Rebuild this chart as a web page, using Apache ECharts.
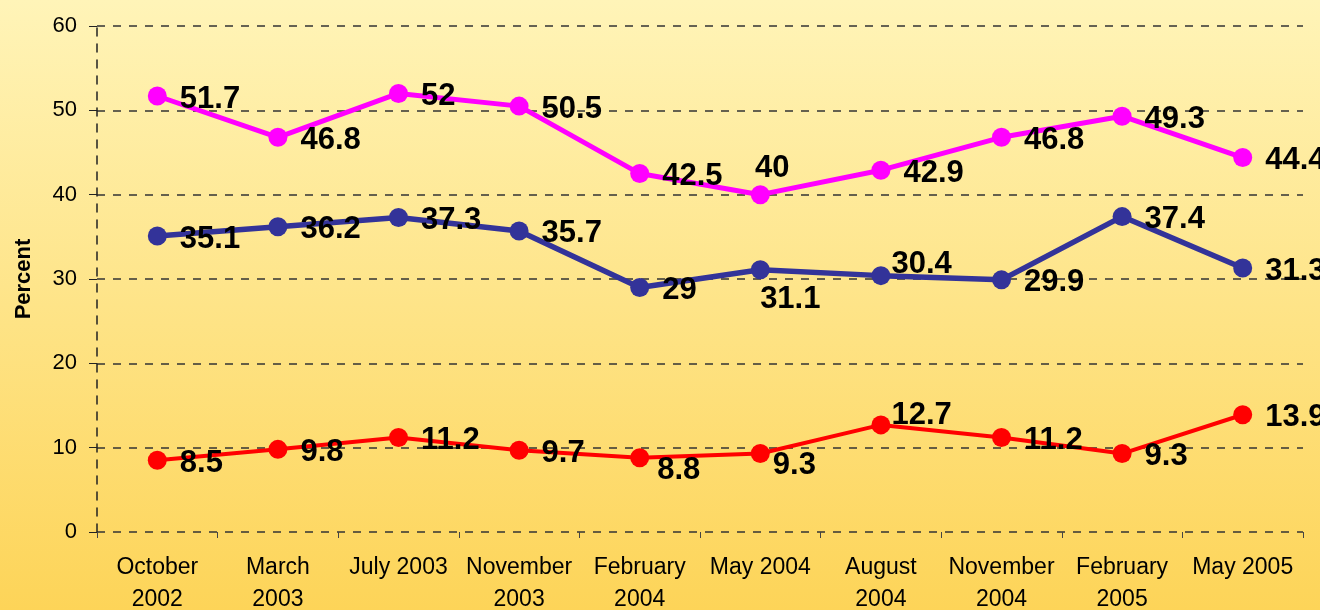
<!DOCTYPE html>
<html>
<head>
<meta charset="utf-8">
<script src="https://cdn.jsdelivr.net/npm/echarts@6/dist/echarts.min.js"></script>
<style>
html, body { margin: 0; padding: 0; }
#chart { width: 1320px; height: 610px; }
</style>
</head>
<body>
<div id="chart"></div>
<script>
var categories = ['October\n2002', 'March\n2003', 'July 2003', 'November\n2003', 'February\n2004',
  'May 2004', 'August\n2004', 'November\n2004', 'February\n2005', 'May 2005']
var magentaValues = [51.7, 46.8, 52, 50.5, 42.5, 40, 42.9, 46.8, 49.3, 44.4]
var blueValues = [35.1, 36.2, 37.3, 35.7, 29, 31.1, 30.4, 29.9, 37.4, 31.3]
var redValues = [8.5, 9.8, 11.2, 9.7, 8.8, 9.3, 12.7, 11.2, 9.3, 13.9]
var yTicks = [0, 10, 20, 30, 40, 50, 60]

// label nudges for single points, kept apart from the values
var magentaNudge = { 5: { position: 'top', offset: [12, 12] } }
var blueNudge = { 5: { position: 'bottom', offset: [30, -8] }, 6: { offset: [-12, -11] } }
var redNudge = { 4: { offset: [-5, 13] }, 5: { offset: [-10, 12] }, 6: { offset: [-12, -9] } }

var chart = echarts.init(document.getElementById('chart'))

function buildData(values, nudge) {
  return values.map(function (v, i) {
    var item = { value: v }
    if (nudge[i]) {
      item.label = nudge[i]
    }
    return item
  })
}

function makeSeries(name, values, color, width, nudge) {
  return {
    name: name,
    type: 'line',
    data: buildData(values, nudge),
    symbol: 'circle',
    symbolSize: 19,
    itemStyle: { color: color },
    lineStyle: { color: color, width: width },
    label: {
      show: true,
      position: 'right',
      distance: 13,
      offset: [0, 3],
      color: '#000',
      fontFamily: 'Liberation Sans, Arial, sans-serif',
      fontWeight: 'bold',
      fontSize: 31
    },
    animation: false
  }
}

chart.setOption({
  backgroundColor: {
    type: 'linear', x: 0, y: 0, x2: 0, y2: 1,
    colorStops: [
      { offset: 0, color: '#fff4b8' },
      { offset: 1, color: '#fdd458' }
    ]
  },
  textStyle: { fontFamily: 'Liberation Sans, Arial, sans-serif' },
  grid: {
    left: 97,
    right: 17,
    top: 26,
    bottom: 78,
    containLabel: false,
    outerBoundsMode: 'none'
  },
  xAxis: {
    type: 'category',
    data: categories,
    boundaryGap: true,
    axisLine: { show: false },
    axisTick: { show: true, length: 6, lineStyle: { color: '#444' } },
    axisLabel: {
      color: '#000',
      fontSize: 23,
      lineHeight: 32,
      margin: 20,
      interval: 0
    },
    splitLine: { show: false }
  },
  yAxis: {
    type: 'value',
    min: yTicks[0],
    max: yTicks[yTicks.length - 1],
    interval: 10,
    name: 'Percent',
    nameLocation: 'middle',
    nameGap: 62,
    nameTextStyle: { color: '#000', fontSize: 22, fontWeight: 'bold' },
    axisLine: { show: true, lineStyle: { color: '#222', type: [8, 8], width: 1.5 } },
    axisTick: { show: true, length: 8, lineStyle: { color: '#222' } },
    axisLabel: { color: '#000', fontSize: 22, margin: 20 },
    splitLine: { show: true, lineStyle: { color: '#333', type: [8, 8], width: 1.5 } }
  },
  series: [
    makeSeries('magenta', magentaValues, '#ff00ff', 5, magentaNudge),
    makeSeries('blue', blueValues, '#333399', 5.5, blueNudge),
    makeSeries('red', redValues, '#ff0000', 4, redNudge)
  ]
})
</script>
</body>
</html>
